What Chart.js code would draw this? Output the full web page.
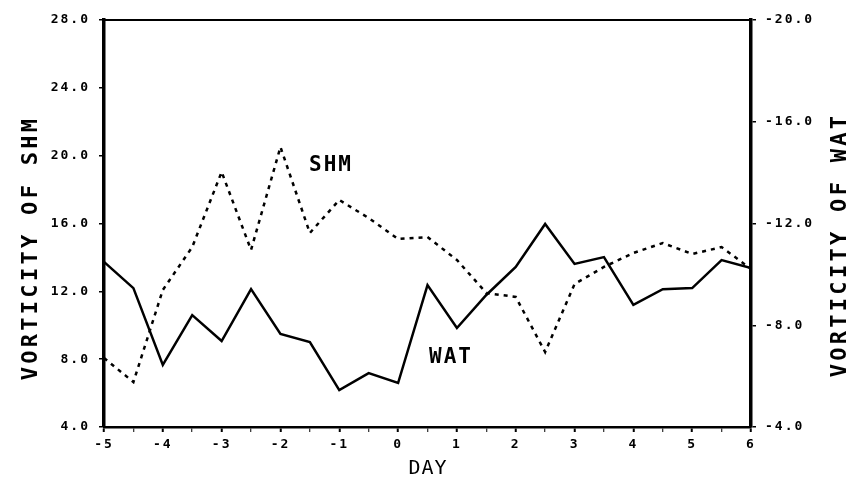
<!DOCTYPE html>
<html>
<head>
<meta charset="utf-8">
<script src="https://cdn.jsdelivr.net/npm/chart.js@4"></script>
<style>
  html, body { margin: 0; padding: 0; background: #fff; }
  #wrap { width: 851px; height: 483px; }
</style>
</head>
<body>
<div id="wrap"><canvas id="chart" width="851" height="483"></canvas></div>
<script>
// days, half-day steps from -5 to 6
const days = [-5, -4.5, -4, -3.5, -3, -2.5, -2, -1.5, -1, -0.5, 0, 0.5, 1, 1.5, 2, 2.5, 3, 3.5, 4, 4.5, 5, 5.5, 6];

// SHM vorticity (dotted, left axis)
const shmValues = [8.07, 6.65, 12.08, 14.61, 19.04, 14.44, 20.51, 15.44, 17.39, 16.32, 15.09, 15.20, 13.85,
    11.90, 11.67, 8.42, 12.43, 13.44, 14.26, 14.85, 14.20, 14.61, 13.32];

// WAT vorticity (solid, right axis, reversed)
const watValues = [-10.49, -9.46, -6.44, -8.40, -7.38, -9.42, -7.66, -7.34, -5.45, -6.12, -5.73, -9.58, -7.89,
    -9.19, -10.29, -11.98, -10.41, -10.68, -8.80, -9.42, -9.46, -10.56, -10.25];

const shmTicks = [4, 8, 12, 16, 20, 24, 28];
const watTicks = [-20, -16, -12, -8, -4];
const dayTicks = [-5, -4.5, -4, -3.5, -3, -2.5, -2, -1.5, -1, -0.5, 0, 0.5, 1, 1.5, 2, 2.5, 3, 3.5, 4, 4.5, 5, 5.5, 6];

const FONT = "'DejaVu Sans Mono', monospace";

// letter spacing for the plotter look + frame top line + titles / series labels
const decor = {
    id: "decor",
    beforeDraw(chart) {
        chart.ctx.letterSpacing = "2px";
    },
    afterDraw(chart) {
        const { ctx, chartArea: a, scales } = chart;
        ctx.save();
        // top frame line
        ctx.strokeStyle = "#000";
        ctx.lineWidth = 2;
        ctx.beginPath();
        ctx.moveTo(a.left, a.top);
        ctx.lineTo(a.right, a.top);
        ctx.stroke();

        ctx.fillStyle = "#000";
        ctx.textAlign = "center";
        ctx.textBaseline = "middle";

        // axis titles
        ctx.font = "bold 22px " + FONT;
        ctx.letterSpacing = "3.3px";
        ctx.save();
        ctx.translate(31, 248);
        ctx.rotate(-Math.PI / 2);
        ctx.fillText("VORTICITY OF SHM", 0, 0);
        ctx.restore();
        ctx.save();
        ctx.translate(840, 245);
        ctx.rotate(-Math.PI / 2);
        ctx.fillText("VORTICITY OF WAT", 0, 0);
        ctx.restore();

        ctx.font = "20px " + FONT;
        ctx.letterSpacing = "1px";
        ctx.fillText("DAY", 428, 469);

        // series labels, placed in data units
        const x = scales.x, y = scales.y;
        ctx.font = "bold 21px " + FONT;
        ctx.letterSpacing = "2px";
        ctx.fillText("SHM", x.getPixelForValue(-1.14), y.getPixelForValue(19.4));
        ctx.fillText("WAT", x.getPixelForValue(0.9), y.getPixelForValue(8.07));
        ctx.restore();
    }
};

const axisGrid = { display: true, drawOnChartArea: false, drawTicks: true, tickLength: 5, color: "#000", lineWidth: 1.5 };
const tickFont = { family: FONT, size: 13, weight: "bold" };

new Chart(document.getElementById("chart"), {
    type: "line",
    data: {
        datasets: [
            {
                label: "SHM",
                data: days.map((d, i) => ({ x: d, y: shmValues[i] })),
                yAxisID: "y",
                borderColor: "#000",
                borderWidth: 2.5,
                borderDash: [4, 5],
                pointRadius: 0,
                tension: 0,
                fill: false
            },
            {
                label: "WAT",
                data: days.map((d, i) => ({ x: d, y: watValues[i] })),
                yAxisID: "y2",
                borderColor: "#000",
                borderWidth: 2.5,
                pointRadius: 0,
                tension: 0,
                fill: false
            }
        ]
    },
    options: {
        responsive: false,
        animation: false,
        layout: { padding: { top: 20, left: 0, right: 0, bottom: 0 } },
        plugins: { legend: { display: false }, tooltip: { enabled: false } },
        scales: {
            x: {
                type: "linear",
                min: -5, max: 6,
                afterFit: s => { s.height = 56; },
                afterBuildTicks: s => { s.ticks = dayTicks.map(v => ({ value: v })); },
                ticks: {
                    font: tickFont, color: "#000", padding: 5, autoSkip: false, maxRotation: 0,
                    callback: v => Number.isInteger(v) ? String(v) : ""
                },
                grid: {
                    ...axisGrid,
                    tickWidth: c => Number.isInteger(c.tick.value) ? 2 : 1
                },
                border: { display: true, color: "#000", width: 2.5 }
            },
            y: {
                type: "linear",
                position: "left",
                min: 4, max: 28,
                afterFit: s => { s.width = 104; },
                afterBuildTicks: s => { s.ticks = shmTicks.map(v => ({ value: v })); },
                ticks: { font: tickFont, color: "#000", padding: 9, callback: v => v.toFixed(1) },
                grid: axisGrid,
                border: { display: true, color: "#000", width: 3.5 }
            },
            y2: {
                type: "linear",
                position: "right",
                min: -20, max: -4,
                reverse: true,
                afterFit: s => { s.width = 100; },
                afterBuildTicks: s => { s.ticks = watTicks.map(v => ({ value: v })); },
                ticks: { font: tickFont, color: "#000", padding: 9, callback: v => v.toFixed(1) },
                grid: axisGrid,
                border: { display: true, color: "#000", width: 3.5 }
            }
        }
    },
    plugins: [decor]
});
</script>
</body>
</html>
